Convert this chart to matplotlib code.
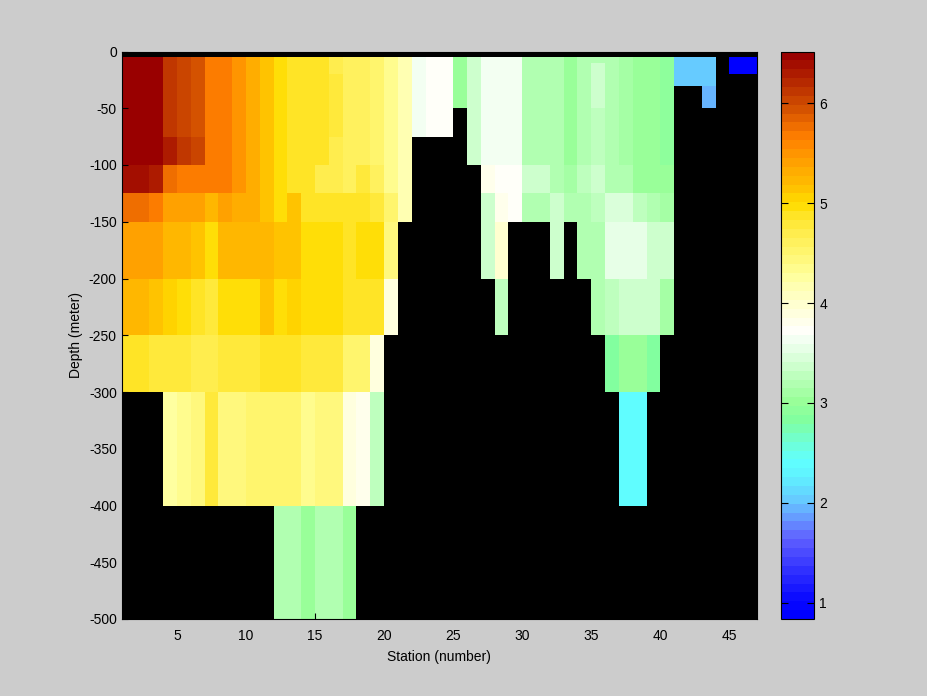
import numpy as np
import matplotlib
matplotlib.use("Agg")
import matplotlib.pyplot as plt
from matplotlib.colors import LinearSegmentedColormap, ListedColormap

plt.rcParams['font.family'] = ['Liberation Sans', 'DejaVu Sans']
plt.rcParams['axes.unicode_minus'] = False

N = np.nan

# Station edges (46 cells between stations 1..47) and depth levels (m)
stations = np.arange(1, 48)
depths = [0, 5, 10, 20, 30, 50, 75, 100, 125, 150, 200, 250, 300, 400, 500]

# Cell values: row = depth interval starting at depths[i], column = station 1..46
r_0_5 = [N] * 46
r_5_10 = [6.5, 6.5, 6.45, 6.15, 6.05, 5.9, 5.7, 5.7, 5.5, 5.3, 5.15, 5.0, 4.9, 4.85, 4.85, 4.7,
          4.65, 4.65, 4.55, 4.3, 4.2, 3.6, 3.7, 3.7, 3.05, 3.4, 3.6, 3.6, 3.6, 3.2, 3.2, 3.2,
          3.0, 3.15, 3.15, 3.2, 3.1, 3.05, 3.0, 2.95, 2.0, 2.0, 2.0, N, 0.9, 0.9]
r_10_20 = [6.5, 6.5, 6.45, 6.15, 6.05, 5.9, 5.7, 5.7, 5.5, 5.3, 5.15, 5.0, 4.9, 4.85, 4.85, 4.7,
           4.65, 4.65, 4.55, 4.3, 4.2, 3.6, 3.7, 3.7, 3.05, 3.4, 3.6, 3.6, 3.6, 3.2, 3.2, 3.2,
           3.0, 3.15, 3.4, 3.2, 3.1, 3.05, 3.0, 2.95, 2.0, 2.0, 2.0, N, 0.9, 0.9]
r_20_30 = [6.5, 6.5, 6.45, 6.15, 6.05, 5.9, 5.7, 5.7, 5.5, 5.3, 5.15, 5.0, 4.9, 4.85, 4.85, 4.8,
           4.65, 4.65, 4.55, 4.3, 4.2, 3.6, 3.7, 3.7, 3.05, 3.4, 3.6, 3.6, 3.6, 3.2, 3.2, 3.2,
           3.0, 3.15, 3.4, 3.2, 3.1, 3.05, 3.0, 2.95, 2.0, 2.0, 2.0, N, N, N]
r_30_50 = [6.5, 6.5, 6.45, 6.15, 6.05, 5.9, 5.7, 5.7, 5.5, 5.3, 5.15, 5.0, 4.9, 4.85, 4.85, 4.8,
           4.65, 4.65, 4.55, 4.3, 4.2, 3.6, 3.7, 3.7, 3.05, 3.4, 3.6, 3.6, 3.6, 3.2, 3.2, 3.2,
           3.0, 3.15, 3.4, 3.2, 3.1, 3.05, 3.0, 2.95, N, N, 1.95, N, N, N]
r_50_75 = [6.5, 6.5, 6.45, 6.15, 6.05, 5.9, 5.7, 5.7, 5.5, 5.3, 5.15, 5.0, 4.9, 4.85, 4.85, 4.8,
           4.65, 4.65, 4.55, 4.3, 4.2, 3.6, 3.7, 3.7, N, 3.4, 3.6, 3.6, 3.6, 3.2, 3.2, 3.2,
           3.0, 3.15, 3.25, 3.2, 3.1, 3.05, 3.0, 2.95, N, N, N, N, N, N]
r_75_100 = [6.5, 6.5, 6.45, 6.3, 6.15, 6.05, 5.7, 5.7, 5.5, 5.3, 5.15, 5.0, 4.9, 4.85, 4.85, 4.7,
            4.65, 4.65, 4.55, 4.3, 4.2, N, N, N, N, 3.4, 3.6, 3.6, 3.6, 3.2, 3.2, 3.2,
            3.0, 3.15, 3.25, 3.2, 3.1, 3.05, 3.0, 2.95, N, N, N, N, N, N]
r_100_125 = [6.35, 6.35, 6.3, 5.8, 5.7, 5.7, 5.65, 5.65, 5.5, 5.3, 5.15, 5.0, 4.9, 4.85, 4.7, 4.7,
             4.65, 4.75, 4.6, 4.3, 4.2, N, N, N, N, N, 3.8, 3.7, 3.7, 3.4, 3.4, 3.15,
             3.1, 3.3, 3.4, 3.2, 3.2, 3.05, 3.0, 3.0, N, N, N, N, N, N]
r_125_150 = [5.8, 5.8, 5.7, 5.4, 5.4, 5.4, 5.2, 5.4, 5.3, 5.3, 5.15, 5.0, 5.1, 4.9, 4.9, 4.85,
             4.85, 4.85, 4.75, 4.55, 4.2, N, N, N, N, N, 3.4, 3.85, 3.7, 3.2, 3.2, 3.4,
             3.2, 3.2, 3.3, 3.45, 3.45, 3.3, 3.2, 3.1, N, N, N, N, N, N]
r_150_200 = [5.45, 5.45, 5.45, 5.25, 5.25, 5.15, 5.0, 5.25, 5.25, 5.2, 5.2, 5.1, 5.15, 5.0, 4.95, 4.95,
             4.9, 4.95, 4.95, 4.45, N, N, N, N, N, N, 3.4, 3.95, N, N, N, 3.35,
             N, 3.2, 3.2, 3.5, 3.5, 3.5, 3.4, 3.4, N, N, N, N, N, N]
r_200_250 = [5.25, 5.25, 5.15, 5.05, 5.0, 4.9, 4.75, 5.0, 5.0, 5.0, 5.15, 5.0, 5.05, 5.0, 4.95, 4.95,
             4.85, 4.9, 4.85, 3.9, N, N, N, N, N, N, N, 3.3, N, N, N, N,
             N, N, 3.2, 3.3, 3.4, 3.4, 3.4, 3.1, N, N, N, N, N, N]
r_250_300 = [4.85, 4.85, 4.8, 4.8, 4.8, 4.7, 4.7, 4.75, 4.8, 4.8, 4.9, 4.85, 4.9, 4.8, 4.8, 4.8,
             4.5, 4.5, 3.9, N, N, N, N, N, N, N, N, N, N, N, N, N,
             N, N, N, 2.8, 3.0, 3.0, 2.8, N, N, N, N, N, N, N]
r_300_400 = [N, N, N, 4.25, 4.3, 4.4, 4.8, 4.4, 4.4, 4.5, 4.5, 4.55, 4.5, 4.35, 4.4, 4.4,
             3.9, 3.8, 3.25, N, N, N, N, N, N, N, N, N, N, N, N, N,
             N, N, N, N, 2.35, 2.35, N, N, N, N, N, N, N, N]
r_400_500 = [N, N, N, N, N, N, N, N, N, N, N, 3.2, 3.2, 3.05, 3.2, 3.2,
             3.0, N, N, N, N, N, N, N, N, N, N, N, N, N, N, N,
             N, N, N, N, N, N, N, N, N, N, N, N, N, N]

rows = [r_0_5, r_5_10, r_10_20, r_20_30, r_30_50, r_50_75, r_75_100, r_100_125,
        r_125_150, r_150_200, r_200_250, r_250_300, r_300_400, r_400_500]
temp = np.array(rows, dtype=float)

clim = (0.835, 6.52)
cb_ticks = [1, 2, 3, 4, 5, 6]
x_ticks = [5, 10, 15, 20, 25, 30, 35, 40, 45]
y_ticks = [0, -50, -100, -150, -200, -250, -300, -350, -400, -450, -500]

# Colormap anchors (value, color)
anchors = [
    (0.835, '#0000FF'), (1.0, '#0A0AFF'), (1.3, '#3333FF'), (1.6, '#6060FF'),
    (1.8, '#6699FF'), (2.0, '#66CCFF'), (2.2, '#60EEFF'), (2.4, '#60FFFF'),
    (2.6, '#70FFD4'), (2.8, '#80FFA0'), (3.0, '#99FF99'), (3.2, '#B4FFB4'),
    (3.4, '#D4FFD4'), (3.6, '#F0FFF0'), (3.73, '#FFFFFA'), (4.0, '#FFFFD0'),
    (4.15, '#FFFFB8'), (4.3, '#FFFF99'), (4.45, '#FFF87C'), (4.6, '#FFF262'),
    (4.75, '#FFEC48'), (4.9, '#FFE424'), (5.0, '#FFDD00'),
    (5.2, '#FFC000'), (5.4, '#FFA800'), (5.6, '#FF8C00'), (5.7, '#FF7F00'),
    (6.0, '#D25000'), (6.52, '#990000'),
]
pos = [(v - clim[0]) / (clim[1] - clim[0]) for v, _ in anchors]
pos[0], pos[-1] = 0.0, 1.0
base = LinearSegmentedColormap.from_list('tcmap', list(zip(pos, [c for _, c in anchors])))
cmap = ListedColormap(base(np.linspace(0, 1, 64)))

fig = plt.figure(figsize=(9.28, 6.96), dpi=100, facecolor='#CCCCCC')
ax = fig.add_axes([121.7 / 928, 77 / 696, (757 - 121.7) / 928, (619 - 51.5) / 696])
ax.set_facecolor('black')
Y = -np.array(depths, dtype=float)
mesh = ax.pcolormesh(stations, Y, temp, cmap=cmap, vmin=clim[0], vmax=clim[1], shading='flat')
ax.set_xlim(1, 47)
ax.set_ylim(-500, 0)
ax.set_xticks(x_ticks)
ax.set_yticks(y_ticks)
ax.tick_params(direction='in', length=4, labelsize=10, colors='black')
ax.tick_params(axis='x', pad=7.5)
ax.set_xlabel('Station (number)', fontsize=10, labelpad=5)
ax.set_ylabel('Depth (meter)', fontsize=10)
for s in ax.spines.values():
    s.set_color('black')

cax = fig.add_axes([781.3 / 928, 77 / 696, 33 / 928, (619 - 51.5) / 696])
cb = fig.colorbar(mesh, cax=cax, ticks=cb_ticks)
cb.outline.set_edgecolor('black')
cax.tick_params(direction='in', length=5, left=True, right=True, labelleft=False,
                labelright=True, labelsize=10)
cax.minorticks_off()

fig.savefig('out.png', dpi=100, facecolor=fig.get_facecolor())
